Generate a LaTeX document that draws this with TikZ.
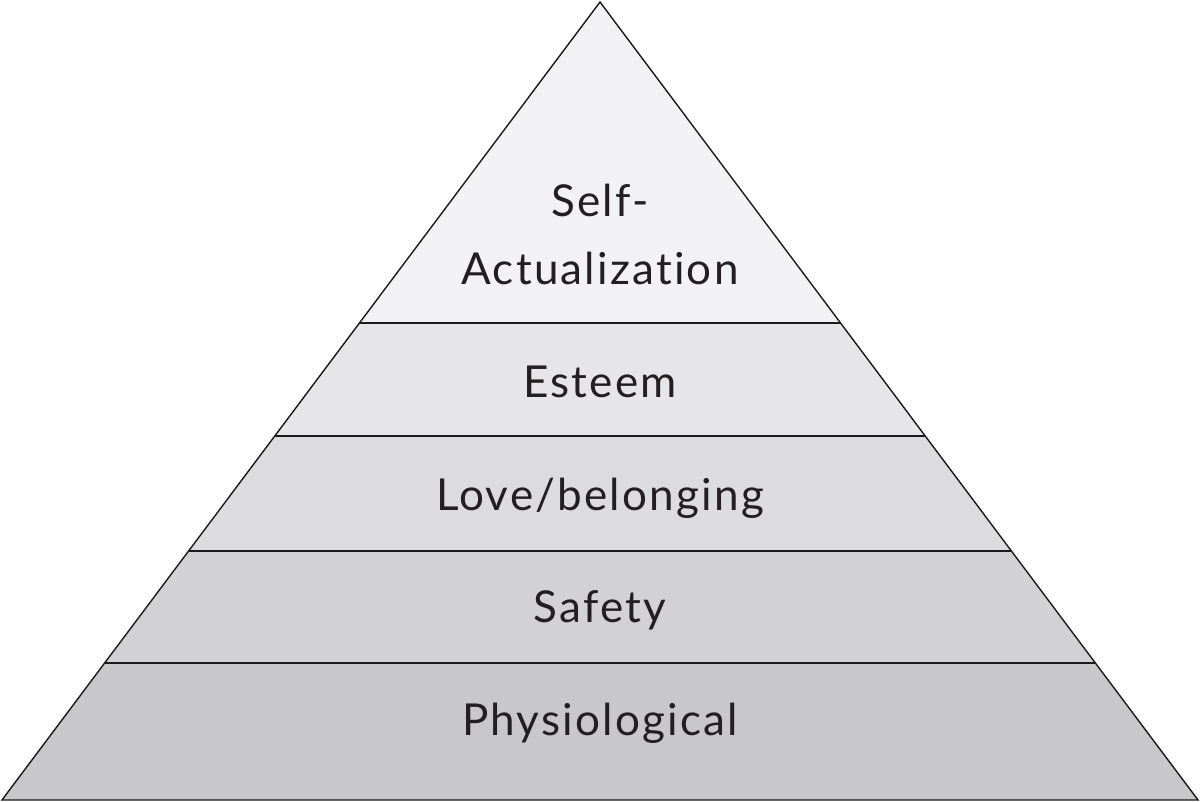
\documentclass[tikz,border=0pt]{standalone}
\usepackage{fontspec}
\setmainfont{Lato}[LetterSpace=5, Ligatures=NoCommon]
\usepackage{xcolor}
\definecolor{LayerA}{HTML}{F2F2F4}
\definecolor{LayerB}{HTML}{E6E6E8}
\definecolor{LayerC}{HTML}{DCDCDE}
\definecolor{LayerD}{HTML}{D2D2D4}
\definecolor{LayerE}{HTML}{C8C8CA}
\definecolor{EdgeCol}{HTML}{1A1A1A}
\definecolor{LabelCol}{HTML}{231F20}

\begin{document}
\begin{tikzpicture}[x=1pt, y=-1pt]

  % Seitenrahmen (1200 x 802)
  \useasboundingbox (0,0) rectangle (1200,802);

  \tikzset{
    layerlabel/.style={anchor=base, text=LabelCol, font=\fontsize{44}{52}\selectfont},
    layeredge/.style={draw=EdgeCol, line width=1.4pt, line join=miter}
  }

  % Spitze und Basis
  \coordinate (apex) at (600,2);
  \coordinate (baseL) at (2,800);
  \coordinate (baseR) at (1198,800);

  % Makro fuer eine Schicht: 1=oberes y, 2=unteres y, 3=Fill
  \def\pyrlayer#1#2#3{
    \pgfmathsetmacro\hwtop{(#1-2)/798*598}
    \pgfmathsetmacro\hwbot{(#2-2)/798*598}
    \fill[#3] (600-\hwtop,#1) -- (600+\hwtop,#1) -- (600+\hwbot,#2) -- (600-\hwbot,#2) -- cycle;
  }

  % Schichten von oben nach unten
  \pyrlayer{2}{323}{LayerA}
  \pyrlayer{323}{436}{LayerB}
  \pyrlayer{436}{551}{LayerC}
  \pyrlayer{551}{663}{LayerD}
  \pyrlayer{663}{800}{LayerE}

  % Trennlinien
  \foreach \yy in {323,436,551,663} {
    \pgfmathsetmacro\hw{(\yy-2)/798*598}
    \draw[layeredge] (600-\hw,\yy) -- (600+\hw,\yy);
  }

  % Umriss
  \draw[layeredge] (apex) -- (baseR) -- (baseL) -- cycle;

  % Beschriftungen
  \node[layerlabel] (self) at (600,217) {Self-};
  \node[layerlabel] (actual) at (600,285) {Actualization};
  \node[layerlabel] (esteem) at (600,397) {Esteem};
  \node[layerlabel] (love) at (600,510) {Love/belonging};
  \node[layerlabel] (safety) at (600,622) {Safety};
  \node[layerlabel] (physio) at (600,735) {Physiological};

\end{tikzpicture}
\end{document}
